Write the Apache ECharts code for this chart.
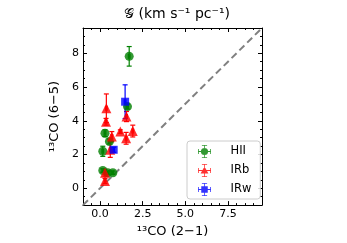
<!DOCTYPE html>
<html><head><meta charset="utf-8">
<script src="https://cdn.jsdelivr.net/npm/echarts@6/dist/echarts.min.js"></script>
<style>html,body{margin:0;padding:0;background:#fff}#c{width:347px;height:243px}</style>
</head><body><div id="c"></div>
<script>
// [x, y, xerr, yerr]
const hiiData = [
  [1.71, 7.82, 0.05, 0.58],
  [1.61, 4.84, 0.05, 0.15],
  [0.29, 3.26, 0.05, 0.20],
  [0.55, 2.77, 0.05, 0.15],
  [0.16, 2.19, 0.05, 0.30],
  [0.16, 1.05, 0.05, 0.10],
  [0.45, 0.92, 0.05, 0.10],
  [0.75, 0.92, 0.05, 0.10]
];
const irbData = [
  [0.37, 4.74, 0.05, 0.85],
  [0.35, 3.94, 0.05, 0.20],
  [0.69, 3.06, 0.05, 0.30],
  [1.19, 3.36, 0.05, 0.10],
  [1.53, 2.96, 0.05, 0.35],
  [1.92, 3.39, 0.05, 0.35],
  [1.55, 4.25, 0.05, 0.30],
  [0.60, 2.28, 0.05, 0.45],
  [0.29, 0.92, 0.05, 0.20],
  [0.29, 0.43, 0.05, 0.15]
];
const irwData = [
  [1.47, 5.13, 0.05, 1.00],
  [0.80, 2.28, 0.05, 0.15]
];
const xTicks = [0, 2.5, 5, 7.5];
const yTicks = [0, 2, 4, 6, 8];
const axisMin = -1, axisMax = 9.5;
const oneToOne = [[axisMin, axisMin], [axisMax, axisMax]];

const FONT = 'DejaVu Sans';
const chart = echarts.init(document.getElementById('c'), null, {renderer: 'canvas'});

function errSeries(name, data, color) {
  return {
    type: 'custom', name: name + '_err', data: data, z: 2, silent: true,
    xAxisIndex: 0, yAxisIndex: 0,
    encode: {x: 0, y: 1},
    renderItem: function (params, api) {
      const x = api.value(0), y = api.value(1), ex = api.value(2), ey = api.value(3);
      const top = api.coord([x, y + ey]), bot = api.coord([x, y - ey]);
      const lft = api.coord([x - ex, y]), rgt = api.coord([x + ex, y]);
      const cap = 2.5;
      const st = {stroke: color, lineWidth: 1.2};
      return {type: 'group', children: [
        {type: 'line', shape: {x1: top[0], y1: top[1], x2: bot[0], y2: bot[1]}, style: st},
        {type: 'line', shape: {x1: top[0] - cap, y1: top[1], x2: top[0] + cap, y2: top[1]}, style: st},
        {type: 'line', shape: {x1: bot[0] - cap, y1: bot[1], x2: bot[0] + cap, y2: bot[1]}, style: st},
        {type: 'line', shape: {x1: lft[0], y1: lft[1], x2: rgt[0], y2: rgt[1]}, style: st},
        {type: 'line', shape: {x1: lft[0], y1: lft[1] - cap, x2: lft[0], y2: lft[1] + cap}, style: st},
        {type: 'line', shape: {x1: rgt[0], y1: rgt[1] - cap, x2: rgt[0], y2: rgt[1] + cap}, style: st}
      ]};
    }
  };
}

const bars = 'M9.4 0H10.6V20H9.4Z M6 0H14V1.2H6Z M6 18.8H14V20H6Z M0 9.4H20V10.6H0Z M0 6H1.2V14H0Z M18.8 6H20V14H18.8Z';
const iconCircle = 'path://' + bars + ' M10 4.5A5.5 5.5 0 1 1 10 15.5A5.5 5.5 0 1 1 10 4.5Z';
const iconTri = 'path://' + bars + ' M10 4L16 14.5H4Z';
const iconSq = 'path://' + bars + ' M5 5H15V15H5Z';

function majorAxis(pos, ticks, showLabel, isX) {
  return {
    type: 'value', position: pos, min: axisMin, max: axisMax,
    axisLine: {show: true, onZero: false, lineStyle: {color: '#000', width: 1}},
    axisTick: {show: true, inside: true, length: 4, customValues: ticks, lineStyle: {color: '#000', width: 1}},
    axisLabel: {show: showLabel, customValues: ticks, color: '#000', fontFamily: FONT, fontSize: 11, margin: 4,
      formatter: isX ? (v => v.toFixed(1)) : (v => String(v))},
    splitLine: {show: false}
  };
}
function minorAxis(pos) {
  return {
    type: 'value', position: pos, min: axisMin, max: axisMax, interval: 0.5,
    axisLine: {show: false, onZero: false},
    axisTick: {show: true, inside: true, length: 2, lineStyle: {color: '#000', width: 1}},
    axisLabel: {show: false}, splitLine: {show: false}
  };
}

const xa0 = majorAxis('bottom', xTicks, true, true);
xa0.name = '¹³CO (2−1)';
xa0.nameLocation = 'middle';
xa0.nameGap = 18;
xa0.nameTextStyle = {color: '#000', fontFamily: FONT, fontSize: 13};
const ya0 = majorAxis('left', yTicks, true, false);
ya0.name = '¹³CO (6−5)';
ya0.nameLocation = 'middle';
ya0.nameGap = 16;
ya0.nameTextStyle = {color: '#000', fontFamily: FONT, fontSize: 13};

chart.setOption({
  animation: false,
  backgroundColor: '#fff',
  title: {text: '𝒢 (km s⁻¹ pc⁻¹)', left: 172, textAlign: 'center', top: 2,
    textStyle: {color: '#000', fontFamily: FONT, fontSize: 14, fontWeight: 'normal'}},
  grid: {left: 83, right: 85, top: 28, bottom: 36, containLabel: false},
  xAxis: [xa0, majorAxis('top', xTicks, false, true), minorAxis('bottom'), minorAxis('top')],
  yAxis: [ya0, majorAxis('right', yTicks, false, false), minorAxis('left'), minorAxis('right')],
  legend: {
    orient: 'vertical', left: 187, top: 141, itemWidth: 14, itemHeight: 13, itemGap: 6,
    padding: [4, 9, 3, 11], borderColor: '#ccc', borderWidth: 1, borderRadius: 3,
    backgroundColor: 'rgba(255,255,255,0.85)',
    textStyle: {color: '#000', fontFamily: FONT, fontSize: 11.5, padding: [0, 0, 0, 14]},
    data: [
      {name: 'HII', icon: iconCircle},
      {name: 'IRb', icon: iconTri},
      {name: 'IRw', icon: iconSq}
    ]
  },
  series: [
    {type: 'line', data: oneToOne, showSymbol: false, silent: true, z: 1,
      lineStyle: {color: '#808080', width: 2, type: [7, 4]}},
    errSeries('HII', hiiData, '#008000'),
    errSeries('IRb', irbData, '#ff0000'),
    errSeries('IRw', irwData, '#0000ff'),
    {type: 'scatter', name: 'HII', data: hiiData, symbol: 'circle', symbolSize: 9, z: 3,
      itemStyle: {color: '#008000'}, encode: {x: 0, y: 1}},
    {type: 'scatter', name: 'IRb', data: irbData, symbol: 'triangle', symbolSize: 10, z: 3,
      itemStyle: {color: '#ff0000'}, encode: {x: 0, y: 1}},
    {type: 'scatter', name: 'IRw', data: irwData, symbol: 'rect', symbolSize: 8, z: 3,
      itemStyle: {color: '#0000ff'}, encode: {x: 0, y: 1}}
  ]
});
</script></body></html>
